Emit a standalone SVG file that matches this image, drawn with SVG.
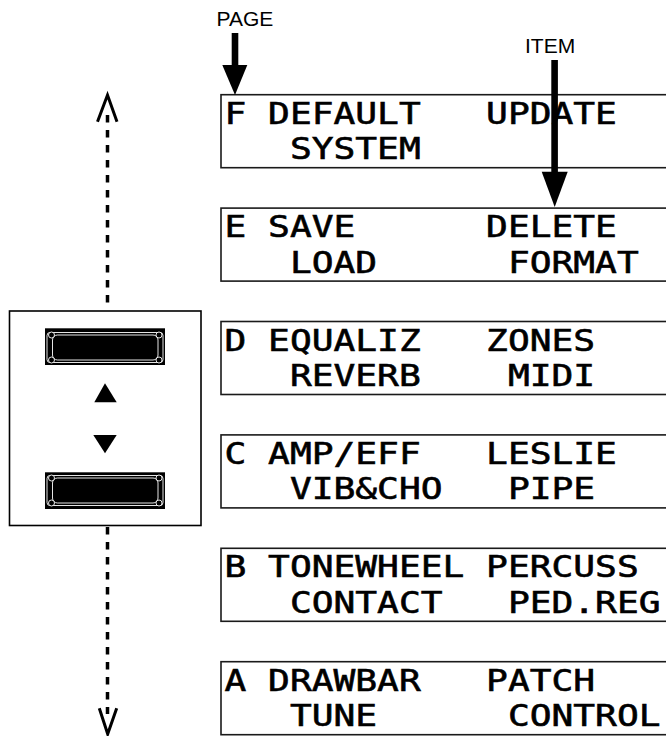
<svg xmlns="http://www.w3.org/2000/svg" width="666" height="736" viewBox="0 0 666 736">
<style>
.lcd{fill:#fff;stroke:#1a1a1a;stroke-width:1.6}
.t{font-family:"DejaVu Sans Mono","Liberation Mono",monospace;font-size:30.5px;fill:#000;stroke:#000;stroke-width:0.6}
.lbl{font-family:"Liberation Sans",Arial,sans-serif;font-size:21px;fill:#000}
.dash{stroke:#000;stroke-width:3.5;stroke-dasharray:7.5 7.5;fill:none}
.open{stroke:#000;stroke-width:3;fill:none;stroke-linejoin:miter}
.btn-o{fill:none;stroke:#fff;stroke-width:0.9}
</style>
<rect width="666" height="736" fill="#fff"/>

<g id="panel">
<rect x="9.5" y="311" width="191.5" height="214.5" fill="#fff" stroke="#000" stroke-width="1.6"/>
<g id="btn-up">
<rect x="45" y="328.3" width="120" height="36.7" fill="#000"/>
<rect x="47" y="332.5" width="116" height="30" rx="3" class="btn-o"/>
<rect x="52.5" y="335" width="105.5" height="25" rx="5" class="btn-o"/>
<circle cx="51.5" cy="335" r="3" fill="#000" stroke="#fff" stroke-width="0.9"/>
<circle cx="159" cy="335" r="3" fill="#000" stroke="#fff" stroke-width="0.9"/>
<circle cx="51.5" cy="360" r="3" fill="#000" stroke="#fff" stroke-width="0.9"/>
<circle cx="159" cy="360" r="3" fill="#000" stroke="#fff" stroke-width="0.9"/>
</g>
<polygon points="105,383.3 116.7,402.3 94.3,402.3" fill="#000"/>
<polygon points="93.3,435 116.7,435 105,453.3" fill="#000"/>
<g id="btn-down">
<rect x="45" y="472.3" width="120" height="36.7" fill="#000"/>
<rect x="47" y="475.5" width="116" height="30" rx="3" class="btn-o"/>
<rect x="52.5" y="478" width="105.5" height="25" rx="5" class="btn-o"/>
<circle cx="51.5" cy="478" r="3" fill="#000" stroke="#fff" stroke-width="0.9"/>
<circle cx="159" cy="478" r="3" fill="#000" stroke="#fff" stroke-width="0.9"/>
<circle cx="51.5" cy="503" r="3" fill="#000" stroke="#fff" stroke-width="0.9"/>
<circle cx="159" cy="503" r="3" fill="#000" stroke="#fff" stroke-width="0.9"/>
</g>
</g>

<g id="page-F">
<rect class="lcd" x="221" y="94.7" width="480" height="73"/>
<text class="t" x="224.5" y="123.7" textLength="21.8" lengthAdjust="spacingAndGlyphs">F</text>
<text class="t" x="268.1" y="123.7" textLength="152.6" lengthAdjust="spacingAndGlyphs">DEFAULT</text>
<text class="t" x="486.1" y="123.7" textLength="130.8" lengthAdjust="spacingAndGlyphs">UPDATE</text>
<text class="t" x="289.9" y="159.2" textLength="130.8" lengthAdjust="spacingAndGlyphs">SYSTEM</text>
</g>
<g id="page-E">
<rect class="lcd" x="221" y="208.1" width="480" height="73"/>
<text class="t" x="224.5" y="237.1" textLength="21.8" lengthAdjust="spacingAndGlyphs">E</text>
<text class="t" x="268.1" y="237.1" textLength="87.2" lengthAdjust="spacingAndGlyphs">SAVE</text>
<text class="t" x="486.1" y="237.1" textLength="130.8" lengthAdjust="spacingAndGlyphs">DELETE</text>
<text class="t" x="289.9" y="272.6" textLength="87.2" lengthAdjust="spacingAndGlyphs">LOAD</text>
<text class="t" x="507.9" y="272.6" textLength="130.8" lengthAdjust="spacingAndGlyphs">FORMAT</text>
</g>
<g id="page-D">
<rect class="lcd" x="221" y="321.5" width="480" height="73"/>
<text class="t" x="224.5" y="350.5" textLength="21.8" lengthAdjust="spacingAndGlyphs">D</text>
<text class="t" x="268.1" y="350.5" textLength="152.6" lengthAdjust="spacingAndGlyphs">EQUALIZ</text>
<text class="t" x="486.1" y="350.5" textLength="109" lengthAdjust="spacingAndGlyphs">ZONES</text>
<text class="t" x="289.9" y="386" textLength="130.8" lengthAdjust="spacingAndGlyphs">REVERB</text>
<text class="t" x="507.9" y="386" textLength="87.2" lengthAdjust="spacingAndGlyphs">MIDI</text>
</g>
<g id="page-C">
<rect class="lcd" x="221" y="434.9" width="480" height="73"/>
<text class="t" x="224.5" y="463.9" textLength="21.8" lengthAdjust="spacingAndGlyphs">C</text>
<text class="t" x="268.1" y="463.9" textLength="152.6" lengthAdjust="spacingAndGlyphs">AMP/EFF</text>
<text class="t" x="486.1" y="463.9" textLength="130.8" lengthAdjust="spacingAndGlyphs">LESLIE</text>
<text class="t" x="289.9" y="499.4" textLength="152.6" lengthAdjust="spacingAndGlyphs">VIB&amp;CHO</text>
<text class="t" x="507.9" y="499.4" textLength="87.2" lengthAdjust="spacingAndGlyphs">PIPE</text>
</g>
<g id="page-B">
<rect class="lcd" x="221" y="548.3" width="480" height="73"/>
<text class="t" x="224.5" y="577.3" textLength="21.8" lengthAdjust="spacingAndGlyphs">B</text>
<text class="t" x="268.1" y="577.3" textLength="196.2" lengthAdjust="spacingAndGlyphs">TONEWHEEL</text>
<text class="t" x="486.1" y="577.3" textLength="152.6" lengthAdjust="spacingAndGlyphs">PERCUSS</text>
<text class="t" x="289.9" y="612.8" textLength="152.6" lengthAdjust="spacingAndGlyphs">CONTACT</text>
<text class="t" x="507.9" y="612.8" textLength="152.6" lengthAdjust="spacingAndGlyphs">PED.REG</text>
</g>
<g id="page-A">
<rect class="lcd" x="221" y="661.7" width="480" height="73"/>
<text class="t" x="224.5" y="690.7" textLength="21.8" lengthAdjust="spacingAndGlyphs">A</text>
<text class="t" x="268.1" y="690.7" textLength="152.6" lengthAdjust="spacingAndGlyphs">DRAWBAR</text>
<text class="t" x="486.1" y="690.7" textLength="109" lengthAdjust="spacingAndGlyphs">PATCH</text>
<text class="t" x="289.9" y="726.2" textLength="87.2" lengthAdjust="spacingAndGlyphs">TUNE</text>
<text class="t" x="507.9" y="726.2" textLength="152.6" lengthAdjust="spacingAndGlyphs">CONTROL</text>
</g>

<g id="connectors">
<line class="dash" x1="107.5" y1="115" x2="107.5" y2="303"/>
<polyline class="open" points="97.5,121.7 107.5,95 117,121.7"/>
<line class="dash" x1="107.5" y1="527" x2="107.5" y2="714"/>
<polyline class="open" points="99.3,708.3 107.7,734 116.7,708.3"/>
<g id="page-arrow">
<rect x="231.7" y="33" width="6.6" height="33" fill="#000"/>
<polygon points="222.3,65 247.3,65 235,95" fill="#000"/>
</g>
<g id="item-arrow">
<rect x="551.3" y="60" width="6.6" height="113" fill="#000"/>
<polygon points="541.7,171.7 567.7,171.7 554.7,207" fill="#000"/>
</g>
</g>

<g id="label-page"><text class="lbl" x="216.5" y="26">PAGE</text></g>
<g id="label-item"><text class="lbl" x="525" y="52.5">ITEM</text></g>
</svg>
